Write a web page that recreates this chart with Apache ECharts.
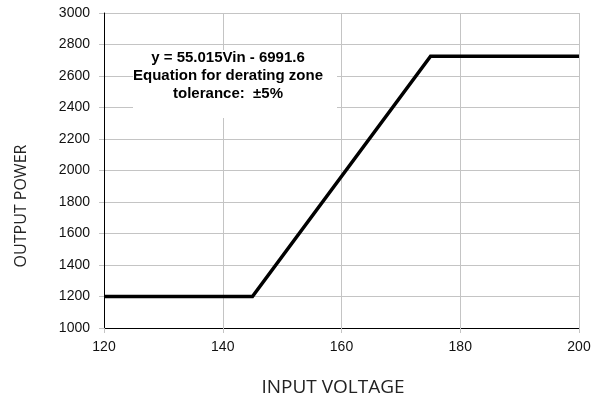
<!DOCTYPE html>
<html>
<head>
<meta charset="utf-8">
<script src="https://cdn.jsdelivr.net/npm/echarts@6/dist/echarts.min.js"></script>
<style>html,body{margin:0;padding:0;background:#fff;}#c{width:597px;height:401px;}</style>
</head>
<body>
<div id="c"></div>
<script>
const inputVoltage = [120, 145, 175, 200];
const outputPower = [1200, 1200, 2725, 2725];
const xTicks = { min: 120, max: 200, interval: 20 };
const yTicks = { min: 1000, max: 3000, interval: 200 };
const annotationLines = ['y = 55.015Vin - 6991.6', 'Equation for derating zone', 'tolerance:  \u00b15%'];
const xTitle = 'INPUT VOLTAGE';
const yTitle = 'OUTPUT POWER';

const chart = echarts.init(document.getElementById('c'), null, { renderer: 'canvas' });
const gridColor = '#c4c4c4';
chart.setOption({
  animation: false,
  grid: { left: 104, right: 18, top: 13, bottom: 73, containLabel: false },
  xAxis: {
    type: 'value', min: xTicks.min, max: xTicks.max, interval: xTicks.interval,
    axisLine: { show: true, lineStyle: { color: '#000', width: 1 } },
    axisTick: { show: true, length: 5, lineStyle: { color: gridColor } },
    axisLabel: { color: '#111', fontFamily: 'Liberation Sans, Arial', fontSize: 14, margin: 12, formatter: v => String(v) },
    splitLine: { show: true, lineStyle: { color: gridColor, width: 1 } }
  },
  yAxis: {
    type: 'value', min: yTicks.min, max: yTicks.max, interval: yTicks.interval,
    axisLine: { show: true, lineStyle: { color: '#000', width: 1 } },
    axisTick: { show: true, length: 5, lineStyle: { color: gridColor } },
    axisLabel: { color: '#111', fontFamily: 'Liberation Sans, Arial', fontSize: 14, margin: 14, formatter: v => String(v) },
    splitLine: { show: true, lineStyle: { color: gridColor, width: 1 } }
  },
  series: [{
    type: 'line',
    data: inputVoltage.map((v, i) => [v, outputPower[i]]),
    symbol: 'none',
    lineStyle: { color: '#000', width: 3.5, join: 'miter' },
    z: 5
  }],
  graphic: [
    { type: 'rect', shape: { x: 133, y: 50, width: 204, height: 68 }, style: { fill: '#fff' }, z: 10 },
    { type: 'text', x: 228, y: 76, z: 11, style: {
      text: annotationLines.join('\n'), fill: '#000', font: 'bold 15px "Liberation Sans", Arial',
      align: 'center', verticalAlign: 'middle', lineHeight: 18 } },
    { type: 'text', x: 333, y: 388, z: 11, style: {
      text: xTitle, fill: '#222', font: '19px "Open Sans"', align: 'center', verticalAlign: 'middle' } },
    { type: 'text', x: 21, y: 206, rotation: Math.PI / 2, z: 11, style: {
      text: yTitle, fill: '#222', font: '16px "Open Sans"', align: 'center', verticalAlign: 'middle' } }
  ]
});
</script>
</body>
</html>
